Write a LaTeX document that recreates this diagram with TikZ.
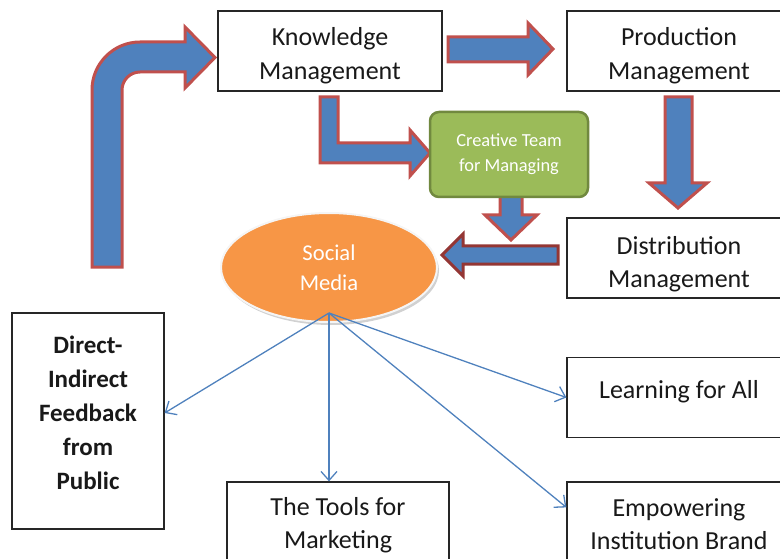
\documentclass[tikz,border=0pt]{standalone}
\usepackage{fontspec}
\setmainfont{Carlito}
\usetikzlibrary{arrows.meta,shapes.geometric,calc}
\definecolor{blk}{HTML}{4F81BD}
\definecolor{redline}{HTML}{C0504D}
\definecolor{darkred}{HTML}{943634}
\definecolor{grn}{HTML}{9BBB59}
\definecolor{grnline}{HTML}{71893F}
\definecolor{orng}{HTML}{F79646}
\definecolor{thinblue}{HTML}{4F81BD}
\begin{document}
\begin{tikzpicture}[x=1pt,y=-1pt,
  box/.style={draw=black!85, line width=1.2pt, fill=white, minimum width=224pt,
    minimum height=80pt, inner sep=0pt},
  boxtext/.style={align=center, inner sep=0pt, text=black!90,
    font=\fontsize{26}{33.5}\selectfont},
  blockarrow/.style={fill=blk, draw=redline, line width=3pt, line join=miter},
  thinarrow/.style={draw=thinblue, line width=1.3pt,
    -{Straight Barb[length=9pt,width=16pt,line width=1.3pt]}}]
\useasboundingbox (0,0) rectangle (780,559);
\clip (0,0) rectangle (780,559);

% block arrows
\path[blockarrow] (122,267) -- (92,267) -- (92,90)
  .. controls (92,63.5) and (113.5,42) .. (140,42) -- (185,42) -- (185,27)
  -- (215,57.5) -- (185,88) -- (185,72) -- (140,72)
  .. controls (130.1,72) and (122,80.1) .. (122,90) -- cycle;
\path[blockarrow] (448,37) -- (528,37) -- (528,23) -- (553,49) -- (528,75)
  -- (528,62) -- (448,62) -- cycle;
\path[blockarrow] (665,97) -- (692,97) -- (692,183) -- (707,183) -- (678,208)
  -- (649,183) -- (665,183) -- cycle;
\path[blockarrow] (320,97) -- (338,97) -- (338,143) -- (410,143) -- (410,130)
  -- (430,153) -- (410,176) -- (410,163) -- (320,163) -- cycle;
\path[blockarrow] (500,190) -- (522,190) -- (522,215) -- (537,215) -- (511,240)
  -- (485,215) -- (500,215) -- cycle;
\path[blockarrow, draw=darkred] (558,246) -- (463,246) -- (463,234) -- (442,255)
  -- (463,276) -- (463,264) -- (558,264) -- cycle;

% boxes
\node[box] (km) at (330,51) {};
\node[boxtext] (kmt) at (330,55.5) {Knowledge\\Management};
\node[box] (pm) at (679,51) {};
\node[boxtext] (pmt) at (679,55.5) {Production\\Management};
\node[box] (dm) at (679,258) {};
\node[boxtext] (dmt) at (679,264) {Distribution\\Management};
\node[box] (la) at (679,397.5) {};
\node[boxtext, text height=18pt, text depth=6pt] (lat) at (679,392) {Learning for All};
\node[box, minimum height=83pt] (eb) at (679,523.5) {};
\node[boxtext] (ebt) at (679,524) {Empowering\\Institution Brand};
\node[box, minimum width=222pt, minimum height=83pt] (tm) at (338,523.5) {};
\node[boxtext] (tmt) at (338,525) {The Tools for\\Marketing};
\node[box, minimum width=152pt, minimum height=216pt] (fb) at (88,421) {};
\node[align=center, inner sep=0pt, text=black!90,
  font=\fontsize{25}{34}\selectfont\bfseries] (fbt) at (88,412.5)
  {Direct-\\Indirect\\Feedback\\from\\Public};

% creative team
\node[draw=grnline, fill=grn, line width=2.5pt, rounded corners=9pt,
  minimum width=158pt, minimum height=85pt, align=center, text=white,
  font=\fontsize{18.4}{25}\selectfont] (ct) at (509,154.5) {Creative Team\\for Managing};

% social media
\node[ellipse, fill=black!18, minimum width=216pt, minimum height=109pt] at (331,270.5) {};
\node[ellipse, draw=white!92!gray, line width=2pt, fill=orng, minimum width=216pt,
  minimum height=109pt, align=center, text=white,
  font=\fontsize{22.6}{30}\selectfont] (sm) at (329,267.5) {Social\\Media};

% thin arrows
\coordinate (o) at (329,313);
\draw[thinarrow] (o) -- ([yshift=8pt]fb.east);
\draw[thinarrow] (o) -- (o |- tm.north);
\draw[thinarrow] (o) -- (la.west);
\draw[thinarrow] (o) -- ([yshift=-26pt]eb.north west);
\end{tikzpicture}
\end{document}
